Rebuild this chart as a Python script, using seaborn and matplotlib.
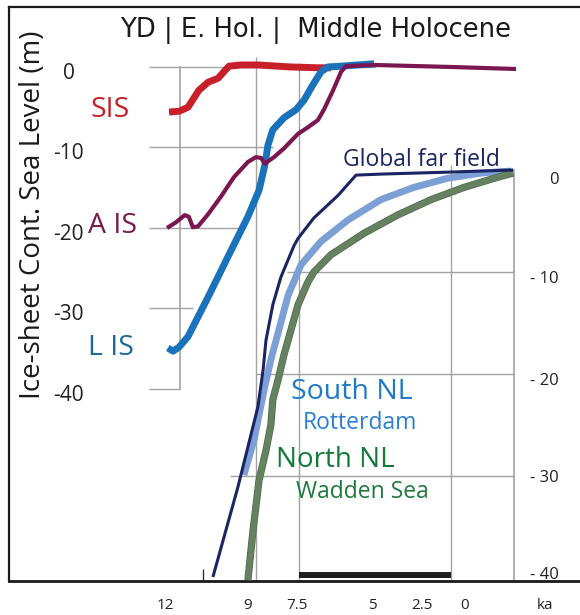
import matplotlib
matplotlib.use('Agg')
import matplotlib.pyplot as plt
import matplotlib.patheffects as pe
from matplotlib.transforms import ScaledTranslation
import seaborn as sns

# Ice-sheet contributions (left axis): age in ka, level in m
sis_age = [12.03, 11.68, 11.37, 10.99, 10.67, 10.32, 10.12, 9.94, 9.52, 8.93, 7.78, 6.84, 6.38]
sis_lvl = [-5.6, -5.5, -5.0, -2.9, -1.9, -1.4, -0.6, 0.1, 0.25, 0.25, 0.0, -0.1, -0.1]

lis_age = [12.07, 11.89, 11.68, 11.37, 10.67, 9.98, 9.28, 8.89, 8.69, 8.58, 8.41, 8.02, 7.60,
           7.32, 7.01, 6.73, 6.49, 6.03, 4.88]
lis_lvl = [-34.9, -35.3, -34.8, -33.5, -28.6, -23.6, -18.6, -15.3, -12.2, -9.7, -7.8, -6.3, -5.3,
           -4.1, -2.2, -0.6, 0.0, 0.1, 0.4]

ais_age = [12.10, 11.79, 11.48, 11.34, 11.20, 11.02, 10.67, 10.22, 9.77, 9.28, 9.00, 8.82, 8.69,
           8.37, 8.02, 7.53, 7.19, 6.84, 6.63, 6.31, 6.03, 5.86, 4.88, 2.20, -0.07]
ais_lvl = [-20.0, -19.3, -18.4, -18.6, -19.9, -19.8, -18.3, -16.1, -13.7, -11.8, -11.2, -11.3, -12.0,
           -11.2, -10.1, -8.3, -7.5, -6.6, -5.3, -2.9, -0.6, 0.1, 0.25, 0.0, -0.25]

# Relative sea level (right axis)
far_age = [10.50, 9.63, 8.93, 8.75, 8.65, 8.41, 8.13, 7.67, 7.53, 6.98, 6.14, 5.51, 4.64, 2.20, 0.03]
far_lvl = [-39.9, -31.1, -23.2, -19.6, -16.7, -13.2, -10.5, -7.4, -6.7, -4.7, -2.5, -0.5, -0.4, -0.2, 0.0]

south_age = [9.42, 9.07, 8.72, 8.48, 8.23, 7.88, 7.43, 6.73, 5.79, 4.64, 3.49, 2.30, 1.15, 0.10]
south_lvl = [-29.9, -26.5, -21.6, -18.6, -16.0, -12.3, -9.3, -7.0, -4.9, -2.9, -1.7, -0.8, -0.3, -0.1]

north_age = [9.28, 9.10, 8.89, 8.65, 8.48, 8.41, 8.23, 8.02, 7.78, 7.53, 7.19, 6.98, 6.38, 5.23,
             4.05, 2.89, 1.74, 0.56, 0.03]
north_lvl = [-40.2, -35.3, -30.4, -27.5, -25.0, -22.5, -20.6, -18.1, -15.7, -13.2, -11.0, -10.0,
             -8.3, -6.2, -4.4, -2.9, -1.7, -0.7, -0.3]

mid_holocene = (7.5, 2.2)

left_ticks = [0, -10, -20, -30, -40]
right_ticks = [0, -10, -20, -30, -40]
right_labels = ['0', '- 10', '- 20', '- 30', '- 40']
x_tick_pos = [12.17, 9.28, 7.57, 4.95, 3.21, 1.71, -1.08]
x_tick_lab = ['12', '9', '7.5', '5', '2.5', '0', 'ka']

sns.set_theme(style='white')
plt.rcParams['font.family'] = ['Open Sans', 'DejaVu Sans']

W, H = 580, 615
fig = plt.figure(figsize=(W / 100, H / 100), dpi=100)
ax_r = fig.add_axes([9 / W, 1 - 581 / H, 571 / W, 574 / H])
ax_r.set_xlim(17.61, -2.30)
ax_r.set_ylim(-40.29, 15.98)
ax_l = ax_r.twinx()
ax_l.set_ylim(-63.85, 7.45)

grid = '#a3a3a3'


def shift(px):
    return ScaledTranslation(0, px / 100, fig.dpi_scale_trans)


# frame
for s in ['left', 'top', 'bottom']:
    ax_r.spines[s].set_color('#1a1a1a')
    ax_r.spines[s].set_linewidth(1.6)
ax_r.spines['bottom'].set_linewidth(2.0)
ax_r.spines['right'].set_position(('data', 0))
ax_r.spines['right'].set_bounds(-40.29, 0)
ax_r.spines['right'].set_color(grid)
ax_r.spines['right'].set_linewidth(1.2)

ax_r.yaxis.tick_right()
ax_r.set_yticks(right_ticks, right_labels)
ax_r.tick_params(axis='y', length=0, pad=32, labelsize=12, labelcolor='#222222')
for t, dy in zip(ax_r.get_yticklabels(), [-8, -5, -5, 0, 5]):
    t.set_horizontalalignment('right')
    t.set_transform(t.get_transform() + shift(dy))

ax_r.set_xticks(x_tick_pos, x_tick_lab)
ax_r.set_xticks([10.85], minor=True)
ax_r.tick_params(axis='x', which='major', length=0, pad=12, labelsize=11, labelcolor='#222222')
ax_r.tick_params(axis='x', which='minor', bottom=True, direction='in', length=9, width=1.0,
                 color='#333333')

# ice-sheet axis
for s in ['top', 'bottom', 'right']:
    ax_l.spines[s].set_visible(False)
ax_l.spines['left'].set_position(('data', 11.65))
ax_l.spines['left'].set_bounds(-40, 0)
ax_l.spines['left'].set_color(grid)
ax_l.spines['left'].set_linewidth(1.2)
ax_l.yaxis.tick_left()
ax_l.set_yticks(left_ticks, [str(v) for v in left_ticks])
ax_l.tick_params(axis='y', direction='out', length=22, width=1.0, color=grid, pad=58,
                 labelsize=15, labelcolor='#222222')
for t in ax_l.get_yticklabels():
    t.set_horizontalalignment('center')
    t.set_transform(t.get_transform() + shift(-4))

# gridlines
ax_l.hlines([0, -10, -20, -30], 11.65, [4.8, 8.4, 9.5, 11.2], color=grid, lw=1.0, zorder=0)
ax_r.hlines([-10, -20, -30], [7.9, 9.0, 9.9], 0, color=grid, lw=1.0, zorder=0)
ax_r.vlines([9.0, 7.5, 2.2], -40.29, [11.1, 10.5, 0.5], color=grid, lw=1.0, zorder=0)

# middle holocene bar
ax_r.hlines(-39.75, mid_holocene[0], mid_holocene[1], color='#1f1f1f', lw=4.3)

line_kw = dict(sort=False, solid_capstyle='butt', solid_joinstyle='round')

# NL curves
sns.lineplot(x=far_age, y=far_lvl, ax=ax_r, color='#1b2563', lw=2.2, zorder=5, **line_kw)
sns.lineplot(x=south_age, y=south_lvl, ax=ax_r, color='#7c9fd6', lw=5, zorder=3, **line_kw)
sns.lineplot(x=north_age, y=north_lvl, ax=ax_r, color='#66815f', lw=4.2, zorder=4,
             path_effects=[pe.Stroke(linewidth=5.2, foreground='#4d6a4b'), pe.Normal()],
             **line_kw)

# ice-sheet curves
sns.lineplot(x=sis_age, y=sis_lvl, ax=ax_l, color='#c8202a', lw=5, zorder=3, **line_kw)
sns.lineplot(x=lis_age, y=lis_lvl, ax=ax_l, color='#1a72bb', lw=5, zorder=4, **line_kw)
sns.lineplot(x=ais_age, y=ais_lvl, ax=ax_l, color='#7a1650', lw=3, zorder=5, **line_kw)

ax_r.set_xlabel('')
ax_r.set_ylabel('')
ax_l.set_ylabel('')


def ftext(px, py, s, **kw):
    fig.text(px / W, 1 - py / H, s, ha='center', va='center', **kw)


ftext(316, 30, 'YD | E. Hol. |  Middle Holocene', fontsize=18.6, color='#1a1a1a',
      family=['DejaVu Sans'])
ftext(33, 215, 'Ice-sheet Cont. Sea Level (m)', fontsize=20, rotation=90, color='#1a1a1a')
ftext(110, 110, 'SIS', fontsize=20.5, color='#c42026')
ftext(113, 226, 'A IS', fontsize=20.5, color='#7b1a4f')
ftext(111, 348, 'L IS', fontsize=20.5, color='#1d6a9a')
ftext(421, 160, 'Global far field', fontsize=16.5, color='#1b2660')
ftext(352, 392, 'South NL', fontsize=20.5, color='#1f7ac8')
ftext(360, 423, 'Rotterdam', fontsize=16.5, color='#2c7fcf')
ftext(335, 460, 'North NL', fontsize=20, color='#137a3a')
ftext(362, 492, 'Wadden Sea', fontsize=16.5, color='#1d7a3c')

fig.savefig('out.png', dpi=100)
